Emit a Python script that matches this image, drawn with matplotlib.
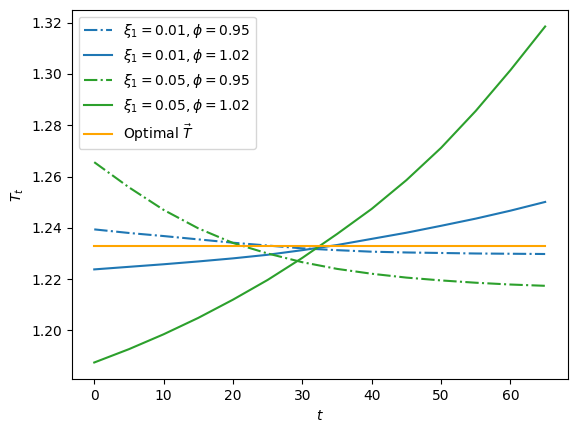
import matplotlib
matplotlib.use('Agg')
import matplotlib.pyplot as plt
import numpy as np

# values at every 5 steps
t = [0, 5, 10, 15, 20, 25, 30, 35, 40, 45, 50, 55, 60, 65]

low_xi_low_phi = [1.2394, 1.2380, 1.2368, 1.2355, 1.2342, 1.2331, 1.2320,
                  1.2313, 1.2307, 1.2304, 1.2302, 1.2300, 1.2299, 1.2298]
low_xi_high_phi = [1.2238, 1.2248, 1.2258, 1.2269, 1.2281, 1.2295, 1.2313,
                   1.2333, 1.2357, 1.2381, 1.2408, 1.2436, 1.2467, 1.2501]
high_xi_low_phi = [1.2656, 1.2558, 1.2470, 1.2398, 1.2341, 1.2300, 1.2266,
                   1.2240, 1.2221, 1.2206, 1.2195, 1.2186, 1.2179, 1.2174]
high_xi_high_phi = [1.1875, 1.1927, 1.1985, 1.2049, 1.2120, 1.2197, 1.2283,
                    1.2376, 1.2474, 1.2586, 1.2712, 1.2856, 1.3015, 1.3185]
optimal_T = 1.2328

labels = [r'$\xi_1 = 0.01, \phi = 0.95$',
          r'$\xi_1 = 0.01, \phi = 1.02$',
          r'$\xi_1 = 0.05, \phi = 0.95$',
          r'$\xi_1 = 0.05, \phi = 1.02$']

fig = plt.figure(figsize=(5.76, 4.32), dpi=100)
ax = fig.add_axes([71.7/576, 52.7/432, 496/576, 369.6/432])

ax.plot(t, low_xi_low_phi, '-.', color='C0', label=labels[0])
ax.plot(t, low_xi_high_phi, '-', color='C0', label=labels[1])
ax.plot(t, high_xi_low_phi, '-.', color='C2', label=labels[2])
ax.plot(t, high_xi_high_phi, '-', color='C2', label=labels[3])
ax.plot(t, [optimal_T]*len(t), '-', color='orange', label=r'Optimal $\vec{T}$')

ax.legend(loc='upper left')
ax.set_xlabel(r'$t$')
ax.set_ylabel(r'$T_t$')
ax.set_yticks([1.20, 1.22, 1.24, 1.26, 1.28, 1.30, 1.32])

fig.savefig('out.png', dpi=100)
